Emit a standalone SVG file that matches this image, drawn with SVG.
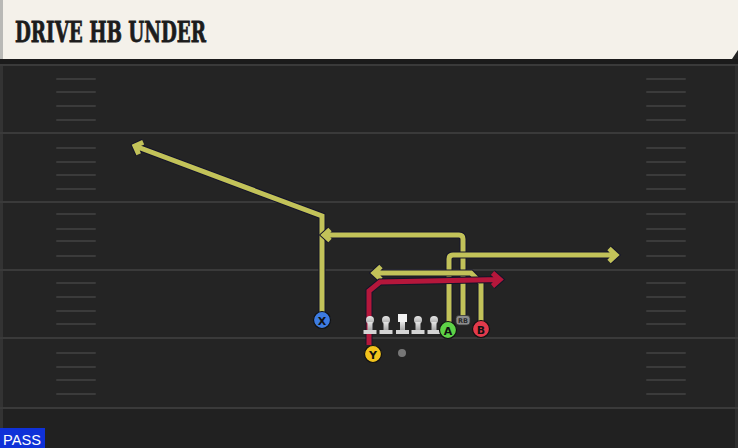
<svg xmlns="http://www.w3.org/2000/svg" width="738" height="448" viewBox="0 0 738 448">
<defs>
<style>
.yl{stroke:#3a3a3a;stroke-width:2}
.hm{stroke:#3b3b3b;stroke-width:2;stroke-linecap:round}
.ol{fill:none;stroke:#14142a;stroke-width:7;stroke-linejoin:miter;stroke-linecap:butt}
.yr{fill:none;stroke:#c2c259;stroke-width:5;stroke-linejoin:miter;stroke-linecap:butt}
.rr{fill:none;stroke:#b5173b;stroke-width:5;stroke-linejoin:miter;stroke-linecap:butt}
.pc{stroke:#111;stroke-width:1.2}
.pl{font-family:"DejaVu Sans","Liberation Sans",sans-serif;font-weight:bold;font-size:11px;fill:#111;text-anchor:middle}
</style>
<linearGradient id="lg" x1="0" y1="0" x2="0" y2="1">
<stop offset="0" stop-color="#e6e6e6"/>
<stop offset="1" stop-color="#a9a9a9"/>
</linearGradient>
<g id="lineman">
<circle cx="0" cy="-9" r="4" fill="url(#lg)"/>
<rect x="-2.5" y="-7" width="5" height="8" fill="url(#lg)"/>
<rect x="-6.5" y="1" width="13" height="4" fill="#d4d4d4"/>
</g>
</defs>

<!-- field -->
<rect x="0" y="0" width="738" height="448" fill="#242424"/>
<rect x="0" y="408" width="738" height="40" fill="#212121"/>
<rect x="0" y="60" width="3" height="388" fill="#333"/>
<rect x="735" y="60" width="3" height="388" fill="#2e2e2e"/>
<rect x="0" y="59" width="738" height="5" fill="#1b1b1b"/>

<g id="yard-lines">
<line class="yl" x1="0" y1="65" x2="738" y2="65"/>
<line class="yl" x1="0" y1="133" x2="738" y2="133"/>
<line class="yl" x1="0" y1="202" x2="738" y2="202"/>
<line class="yl" x1="0" y1="270" x2="738" y2="270"/>
<line class="yl" x1="0" y1="338" x2="738" y2="338"/>
<line class="yl" x1="0" y1="408" x2="738" y2="408"/>
</g>
<g id="hash-marks">
<path class="hm" d="M57 79H95M57 92H95M57 106H95M57 120H95M57 148H95M57 162H95M57 175H95M57 189H95M57 214H95M57 229H95M57 241H95M57 256H95M57 283H95M57 297H95M57 311H95M57 324H95M57 353H95M57 367H95M57 380H95M57 394H95"/>
<path class="hm" d="M647 79H685M647 92H685M647 106H685M647 120H685M647 148H685M647 162H685M647 175H685M647 189H685M647 214H685M647 229H685M647 241H685M647 256H685M647 283H685M647 297H685M647 311H685M647 324H685M647 353H685M647 367H685M647 380H685M647 394H685"/>
</g>

<!-- title bar -->
<g id="title">
<path d="M0 0H738V50L732 59H0Z" fill="#f4f1ea"/>
<rect x="0" y="0" width="3" height="59" fill="#b9b9b6"/>
<text x="15" y="42" font-family="'DejaVu Serif',serif" font-weight="bold" font-size="27" fill="#1c1c1c" stroke="#1c1c1c" stroke-width="0.8" textLength="191" lengthAdjust="spacingAndGlyphs">DRIVE HB UNDER</text>
</g>

<!-- connectors -->
<g id="connectors">
<g id="route-x">
<path class="ol" d="M322 312V216L135 146M138.7 154.2L135 146L143.2 142.3"/>
<path class="yr" d="M322 312V216L135 146M138.7 154.2L135 146L143.2 142.3"/>
</g>
<g id="route-hb">
<path class="ol" d="M463 316V239Q463 235 459 235H324M330 229.5L324 235L330 240.5"/>
<path class="yr" d="M463 316V239Q463 235 459 235H324M330 229.5L324 235L330 240.5"/>
</g>
<g id="route-a">
<path class="ol" d="M449 322V259Q449 255 453 255H616M609 248.5L616 255L609 261.5"/>
<path class="yr" d="M449 322V259Q449 255 453 255H616M609 248.5L616 255L609 261.5"/>
</g>
<g id="route-b">
<path class="ol" d="M481 322V283L471 273H374M381 266.5L374 273L381 279.5"/>
<path class="yr" d="M481 322V283L471 273H374M381 266.5L374 273L381 279.5"/>
</g>
<g id="route-y">
<path class="ol" d="M369 345V291L380 282L500 279.5M492.5 273L500 279.5L492.5 286"/>
<path class="rr" d="M369 345V291L380 282L500 279.5M492.5 273L500 279.5L492.5 286"/>
</g>
</g>

<!-- players -->
<g id="lt"><use href="#lineman" x="370" y="329"/></g>
<g id="lg-player"><use href="#lineman" x="386" y="329"/></g>
<g id="center">
<rect x="398" y="314" width="9" height="8" fill="#f2f2f2"/>
<rect x="400" y="322" width="5" height="8" fill="url(#lg)"/>
<rect x="396" y="330" width="13" height="4" fill="#d4d4d4"/>
</g>
<g id="rg"><use href="#lineman" x="418" y="329"/></g>
<g id="rt"><use href="#lineman" x="434" y="329"/></g>

<g id="qb"><circle cx="402" cy="353" r="4" fill="#777"/></g>

<g id="rb">
<rect x="456" y="315.5" width="14" height="9.5" rx="3" fill="#8d8d8d" stroke="#333" stroke-width="0.8"/>
<text x="463" y="323" font-family="'DejaVu Sans',sans-serif" font-size="6.5" font-weight="bold" fill="#2a2a2a" text-anchor="middle">RB</text>
</g>

<g id="player-x">
<circle class="pc" cx="322" cy="320" r="8.5" fill="#3d7be0"/>
<text class="pl" x="322" y="324.5">X</text>
</g>
<g id="player-y">
<circle class="pc" cx="373" cy="354" r="8.5" fill="#f2c31c"/>
<text class="pl" x="373" y="358.5">Y</text>
</g>
<g id="player-a">
<circle class="pc" cx="448" cy="330" r="8.5" fill="#5ed247"/>
<text class="pl" x="448" y="334.5">A</text>
</g>
<g id="player-b">
<circle class="pc" cx="481" cy="329" r="8.5" fill="#e23a4c"/>
<text class="pl" x="481" y="333.5">B</text>
</g>

<!-- play type -->
<g id="pass-label">
<rect x="0" y="428" width="45" height="20" fill="#0f31d8"/>
<text x="3" y="445" font-family="'Liberation Sans',Arial,sans-serif" font-size="15" fill="#ffffff" textLength="38" lengthAdjust="spacingAndGlyphs">PASS</text>
</g>
</svg>
